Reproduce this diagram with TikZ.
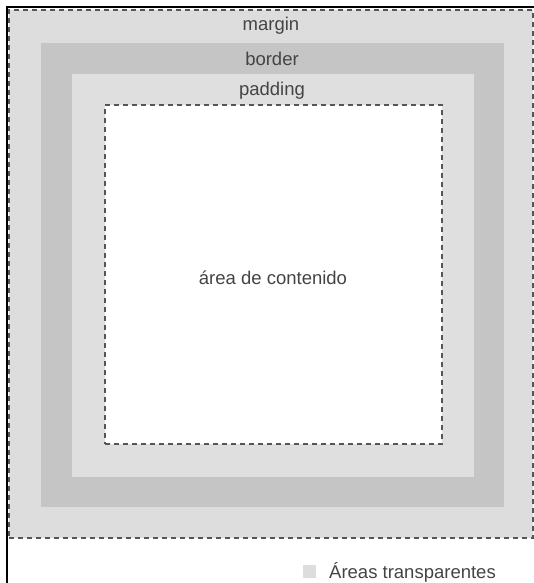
\documentclass[tikz,border=0pt]{standalone}
\usepackage{fontspec}
\setmainfont{Liberation Sans}
\usepackage{tikz}
\usetikzlibrary{positioning}
\definecolor{marginfill}{HTML}{DDDDDD}
\definecolor{borderfill}{HTML}{C5C5C5}
\definecolor{paddingfill}{HTML}{DFDFDF}
\definecolor{dashgray}{HTML}{555555}
\definecolor{labelgray}{HTML}{444444}
\tikzset{
  layer/.style={rectangle,draw=none,fill=#1,inner sep=0pt,outer sep=0pt},
  dashedge/.style={draw=dashgray,line width=1.1pt,dash pattern=on 5pt off 4pt},
  boxlabel/.style={font=\fontsize{18.5}{20}\selectfont,text=labelgray,inner sep=0pt},
}
\begin{document}
\begin{tikzpicture}[x=1pt,y=-1pt]
  \useasboundingbox (0,0) rectangle (534,583);
  % box model layers
  \node[layer=marginfill,dashedge,minimum width=524pt,minimum height=528pt] (margin) at (271,274) {};
  \node[layer=borderfill,minimum width=463pt,minimum height=464pt] (border) at (272.5,275) {};
  \node[layer=paddingfill,minimum width=402pt,minimum height=403pt] (padding) at (273,275.5) {};
  \node[layer=white,dashedge,minimum width=337pt,minimum height=339pt] (content) at (273.5,274.5) {};
  % labels
  \node[boxlabel] (marginlbl) at (271,26) {margin};
  \node[boxlabel] (borderlbl) at (272,59) {border};
  \node[boxlabel] (paddinglbl) at (272,91) {padding};
  \node[boxlabel] (contentlbl) at (273,278) {área de contenido};
  % legend
  \node[layer=marginfill,minimum size=13pt] (legendbox) at (309,571) {};
  \node[boxlabel,anchor=west] (legendlbl) at (329,572) {Áreas transparentes};
  % frame
  \draw[black,line width=2pt] (534,7) -- (7,7) -- (7,583);
\end{tikzpicture}
\end{document}
